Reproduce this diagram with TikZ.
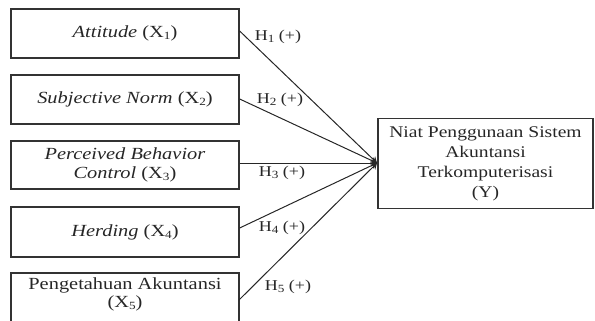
\documentclass[tikz,border=0pt]{standalone}
\usepackage{fontspec}
\setmainfont[FakeStretch=1.2]{Liberation Serif}
\usetikzlibrary{arrows.meta}
\newcommand{\sbs}[1]{\raisebox{-0.3ex}{\fontsize{11}{11}\selectfont #1}}
\begin{document}
\begin{tikzpicture}[x=1pt,y=-1pt,
  box/.style={draw=black!80,line width=1.3pt,align=center,inner sep=0pt,text=black!85,font=\fontsize{17}{20}\selectfont},
  link/.style={draw=black!85,line width=1pt,-{Stealth[length=6pt,width=7pt]}},
  hlab/.style={font=\fontsize{15}{16}\selectfont,inner sep=0pt,text=black!85}]
\useasboundingbox (0,0) rectangle (595,321);
\node[box,minimum width=228pt,minimum height=49pt] (x1) at (125,33.5) {\textit{Attitude} (X\sbs{1})};
\node[box,minimum width=228pt,minimum height=49pt] (x2) at (125,99.5) {\textit{Subjective Norm} (X\sbs{2})};
\node[box,minimum width=228pt,minimum height=48pt,font=\fontsize{17}{19}\selectfont] (x3) at (125,165) {\textit{Perceived Behavior}\\\textit{Control} (X\sbs{3})};
\node[box,minimum width=228pt,minimum height=50pt] (x4) at (125,232) {\textit{Herding} (X\sbs{4})};
\draw[draw=black!80,line width=1.3pt] (11,322) -- (11,273) -- (239,273) -- (239,322);
\node[box,draw=none,font=\fontsize{17}{18}\selectfont] (x5) at (125,294) {Pengetahuan Akuntansi\\(X\sbs{5})};
\coordinate (x5e) at (239,300);
\node[box,minimum width=215pt,minimum height=90pt,font=\fontsize{16.3}{20}\selectfont] (y) at (485.5,163.5) {Niat Penggunaan Sistem\\Akuntansi\\Terkomputerisasi\\(Y)};
\coordinate (t) at (377,163);
\draw[link] (x1.east |- 0,31) -- (t);
\draw[link] (x2.east |- 0,99) -- (t);
\draw[link] (x3.east |- 0,163) -- (t);
\draw[link] (x4.east |- 0,228) -- (t);
\draw[link] (x5e) -- (t);
\node[hlab] (h1) at (278,37) {H\sbs{1} (+)};
\node[hlab] (h2) at (280,100) {H\sbs{2} (+)};
\node[hlab] (h3) at (282,173) {H\sbs{3} (+)};
\node[hlab] (h4) at (282,228) {H\sbs{4} (+)};
\node[hlab] (h5) at (288,287) {H\sbs{5} (+)};
\end{tikzpicture}
\end{document}
